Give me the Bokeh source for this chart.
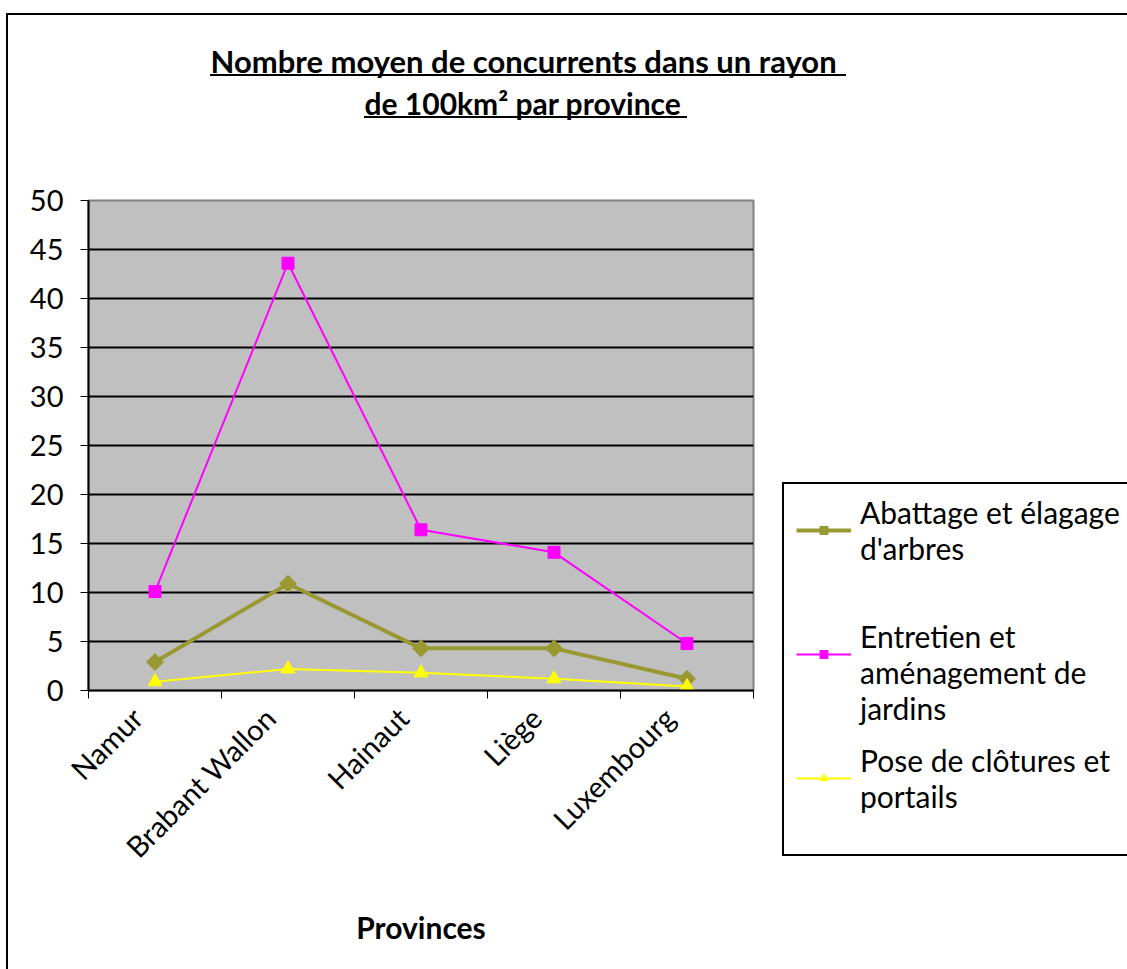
import math
from bokeh.plotting import figure
from bokeh.models import (FixedTicker, Legend, LegendItem, Range1d, Title, InlineStyleSheet, LinearAxis)
from bokeh.embed import file_html
from bokeh.resources import INLINE

provinces = ["Namur", "Brabant Wallon", "Hainaut", "Liège", "Luxembourg"]
abattage = [2.9, 10.9, 4.3, 4.3, 1.2]
entretien = [10.1, 43.6, 16.4, 14.1, 4.8]
pose = [0.9, 2.2, 1.8, 1.2, 0.4]
series_names = ["Abattage et élagage\nd'arbres",
                " \nEntretien et\naménagement de\njardins",
                "Pose de clôtures et\nportails"]
y_ticks = list(range(0, 55, 5))
title_lines = ["Nombre moyen de concurrents dans un rayon ", "de 100km² par province"]
x_title = "Provinces"

FONT = "Lato"
N = len(provinces)
xs = [i + 0.5 for i in range(N)]

p = figure(frame_width=665, frame_height=490, output_backend="svg", toolbar_location=None,
           x_range=Range1d(0, N), y_range=Range1d(0, 50),
           x_axis_location=None,
           min_border_left=88, min_border_right=374, min_border_top=200, min_border_bottom=279)
p.background_fill_color = "#C0C0C0"
p.border_fill_color = "white"
p.outline_line_color = "#808080"
p.outline_line_width = 2

# x axis line with ticks at the category boundaries
xa = LinearAxis(ticker=FixedTicker(ticks=[], minor_ticks=list(range(N + 1))))
xa.minor_tick_in = 0
xa.minor_tick_out = 8
xa.minor_tick_line_color = "black"
xa.minor_tick_line_width = 1
xa.major_tick_line_color = None
xa.axis_line_color = "black"
xa.axis_line_width = 2
p.add_layout(xa, "below")

# category names (slanted, ending just left of each category centre)
LABEL_SHIFT = 0.135
p.extra_x_ranges = {"labels": Range1d(LABEL_SHIFT, N + LABEL_SHIFT)}
la = LinearAxis(x_range_name="labels", ticker=FixedTicker(ticks=xs, minor_ticks=[]))
la.major_label_overrides = {x: name for x, name in zip(xs, provinces)}
la.major_label_orientation = math.pi / 4
la.major_tick_line_color = None
la.major_tick_in = 0
la.major_tick_out = 0
la.minor_tick_line_color = None
la.axis_line_color = None
la.major_label_text_font = FONT
la.major_label_text_font_size = "29px"
la.major_label_text_color = "black"
la.major_label_standoff = 14
la.axis_label = x_title
la.axis_label_text_font = FONT
la.axis_label_text_font_size = "30px"
la.axis_label_text_font_style = "bold"
la.axis_label_text_color = "black"
la.axis_label_standoff = 30
p.add_layout(la, "below")

# y axis
ya = p.yaxis[0]
ya.ticker = FixedTicker(ticks=y_ticks)
ya.major_tick_in = 0
ya.major_tick_out = 8
ya.major_tick_line_color = "black"
ya.minor_tick_line_color = None
ya.axis_line_color = "black"
ya.axis_line_width = 2
ya.major_label_text_font = FONT
ya.major_label_text_font_size = "29px"
ya.major_label_text_color = "black"
ya.major_label_standoff = 17

p.xgrid.grid_line_color = None
p.ygrid.ticker = FixedTicker(ticks=y_ticks)
p.ygrid.grid_line_color = "black"
p.ygrid.grid_line_width = 2

r1 = p.line(xs, abattage, line_color="#999933", line_width=4)
s1 = p.scatter(xs, abattage, marker="square", angle=math.pi / 4, size=12, color="#999933")
r2 = p.line(xs, entretien, line_color="#FF00FF", line_width=2)
s2 = p.scatter(xs, entretien, marker="square", size=12, color="#FF00FF")
r3 = p.line(xs, pose, line_color="#FFFF00", line_width=2)
s3 = p.scatter(xs, pose, marker="triangle", size=14, color="#FFFF00")

legend = Legend(items=[LegendItem(label=series_names[0], renderers=[r1, s1]),
                       LegendItem(label=series_names[1], renderers=[r2, s2]),
                       LegendItem(label=series_names[2], renderers=[r3, s3])],
                location=(43, -124))
legend.label_text_font = FONT
legend.label_text_font_size = "30px"
legend.label_text_color = "black"
legend.glyph_width = 55
legend.glyph_height = 20
legend.label_standoff = 9
legend.padding = 0
legend.margin = 0
legend.spacing = 16
legend.border_line_color = None
legend.background_fill_alpha = 0
p.add_layout(legend, "right")

# title: spacer nearest the frame, then line 2, then line 1
spacer = Title(text=" ", standoff=40, text_font=FONT, text_font_size="30px")
t2 = Title(text=title_lines[1], align="left", offset=276, standoff=3,
           text_font=FONT, text_font_size="30px", text_font_style="bold", text_color="black")
t1 = Title(text=title_lines[0], align="left", offset=122, standoff=3,
           text_font=FONT, text_font_size="31px", text_font_style="bold", text_color="black")
p.add_layout(spacer, "above")
p.add_layout(t2, "above")
p.add_layout(t1, "above")

css = """
:host { position: relative; }
:host::after { content: ""; position: absolute; left: 6px; top: 13px; right: 0; bottom: 0;
  border-left: 2px solid black; border-top: 2px solid black; pointer-events: none; z-index: 100; }
:host::before { content: ""; position: absolute; left: 0; top: 0; right: 0; bottom: 0; pointer-events: none; z-index: 100;
  background: linear-gradient(#000, #000) 210px 74px / 636px 2px no-repeat,
              linear-gradient(#000, #000) 364px 116px / 323px 2px no-repeat,
              linear-gradient(#000, #000) 782px 482px / 400px 2px no-repeat,
              linear-gradient(#000, #000) 782px 854px / 400px 2px no-repeat,
              linear-gradient(#000, #000) 782px 482px / 2px 374px no-repeat; }
"""
p.stylesheets = [InlineStyleSheet(css=css)]

open("out.html", "w").write(file_html(p, INLINE))
